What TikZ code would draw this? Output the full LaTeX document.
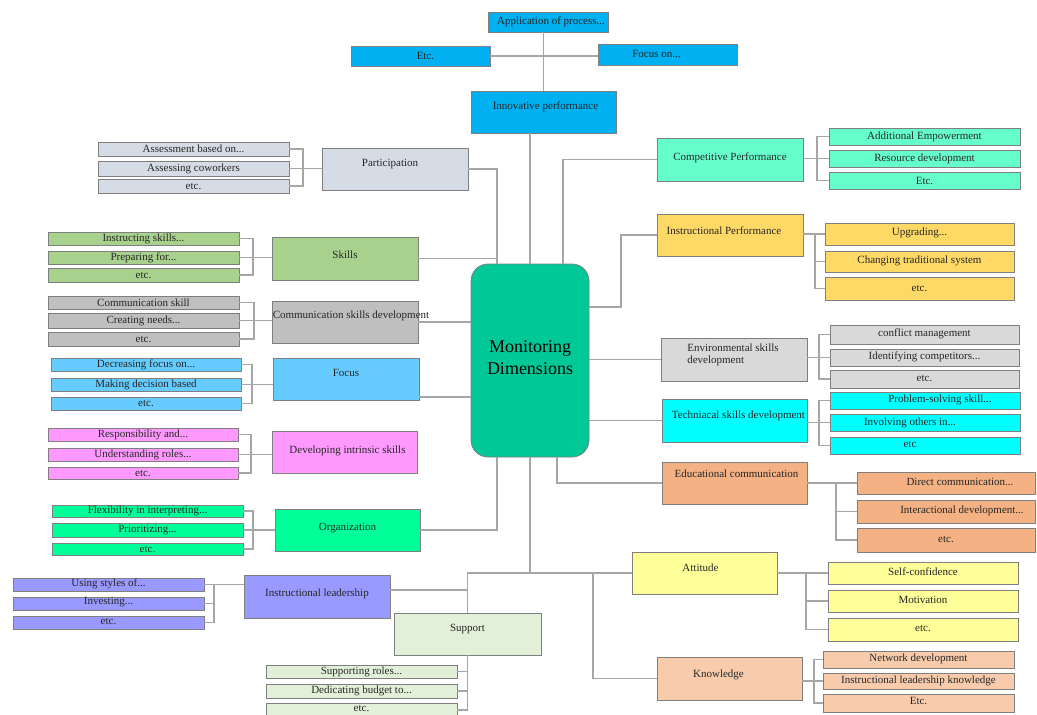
\documentclass[tikz,border=0pt]{standalone}
\usepackage{fontspec}
\setmainfont{Liberation Serif}
\usetikzlibrary{calc}
\definecolor{bordc}{HTML}{7F7F7F}
\definecolor{connc}{HTML}{A6A6A6}
\definecolor{cblue}{HTML}{00B0F0}
\definecolor{cpart}{HTML}{D6DCE5}
\definecolor{cskill}{HTML}{A9D18E}
\definecolor{ccomm}{HTML}{BFBFBF}
\definecolor{cfocus}{HTML}{66CCFF}
\definecolor{cintr}{HTML}{FF99FF}
\definecolor{corg}{HTML}{00FF99}
\definecolor{clead}{HTML}{9999FF}
\definecolor{csupp}{HTML}{E2F0D9}
\definecolor{cmon}{HTML}{00C896}
\definecolor{ccomp}{HTML}{66FFCC}
\definecolor{cipf}{HTML}{FFD966}
\definecolor{cenv}{HTML}{D9D9D9}
\definecolor{ctech}{HTML}{00FFFF}
\definecolor{cedu}{HTML}{F4B183}
\definecolor{catt}{HTML}{FFFF99}
\definecolor{cknow}{HTML}{F8CBAD}
\tikzset{
  box/.style={draw=bordc, line width=0.8pt, inner sep=0pt, outer sep=0pt, rectangle},
  txt/.style={font=\fontsize{11}{12}\selectfont, inner sep=0pt, text=black!85, align=center},
  conn/.style={draw=connc, line width=1.3pt},
}
% name, fill, x1, y1, x2, y2, text, dx, dy
\newcommand\bx[9]{%
  \node[box, fill=#2, minimum width={(#5-#3)*1pt}, minimum height={(#6-#4)*1pt}] (#1) at ({(#3+#5)/2},{(#4+#6)/2}) {};
  \node[txt] (#1t) at ([xshift=#8pt,yshift=#9pt]#1.center) {#7};}
% bracket on the left: parent, a, b, c, x
\newcommand\bl[5]{%
  \coordinate (k#1) at (#5,0);
  \draw[conn] (#2.east) -| (k#1 |- #4.east) -- (#4.east);
  \draw[conn] (#3.east) -- (#3.east -| k#1);}
% bracket on the right
\newcommand\brk[5]{%
  \coordinate (k#1) at (#5,0);
  \draw[conn] (#2.west) -| (k#1 |- #4.west) -- (#4.west);
  \draw[conn] (#3.west) -- (#3.west -| k#1);}
\begin{document}
\begin{tikzpicture}[x=1pt,y=-1pt]
\useasboundingbox (0,0) rectangle (1037,715);
\clip (0,0) rectangle (1037,715);

% centre
\node[box, fill=cmon, rounded corners=17pt, minimum width=118pt, minimum height=193pt] (mon) at (530,360.5) {};
\node[font=\fontsize{18}{22}\selectfont, align=center, inner sep=0pt] (mont) at ([yshift=3pt]mon.center) {Monitoring\\Dimensions};

% top
\bx{ap}{cblue}{488}{12}{608}{32}{Application of process...}{3}{0}
\bx{et}{cblue}{351}{46}{490}{66}{Etc.}{5}{0}
\bx{fn}{cblue}{598}{44}{737}{65}{Focus on...}{-11}{1}
\bx{iv}{cblue}{471}{91}{616}{133}{Innovative performance}{2}{5}
\draw[conn] (iv.north) -- (iv.north |- ap.south);
\draw[conn] (et.east) -- (et.east -| fn.west);
\draw[conn] (iv.south -| mon.north) -- (mon.north);

% left: participation
\bx{part}{cpart}{322}{148}{468}{190}{Participation}{-5}{5}
\bx{pa}{cpart}{98}{142}{289}{156}{Assessment based on...}{0}{0}
\bx{pb}{cpart}{98}{161}{289}{176}{Assessing coworkers}{0}{0}
\bx{pc}{cpart}{98}{179}{289}{193}{etc.}{0}{0}
\bl{part}{pa}{pb}{pc}{303}
\draw[conn] (pb.east) -- (pb.east -| part.west);
\coordinate (xL) at (497,0);
\draw[conn] (part.east) -| (mon.north -| xL);

% skills
\bx{sk}{cskill}{272}{237}{418}{280}{Skills}{0}{4}
\bx{sa}{cskill}{48}{232}{239}{245}{Instructing skills...}{0}{0}
\bx{sb}{cskill}{48}{251}{239}{264}{Preparing for...}{0}{0}
\bx{sc}{cskill}{48}{268}{239}{282}{etc.}{0}{0}
\bl{sk}{sa}{sb}{sc}{253}
\draw[conn] (sb.east) -- (sb.east -| sk.west);
\draw[conn] (sk.east) -- (sk.east -| xL);

% communication skills development
\bx{cm}{ccomm}{272}{301}{418}{343}{Communication skills development}{6}{6}
\bx{ma}{ccomm}{48}{296}{239}{309}{Communication skill}{0}{0}
\bx{mb}{ccomm}{48}{313}{239}{328}{Creating needs...}{0}{0}
\bx{mc}{ccomm}{48}{332}{239}{346}{etc.}{0}{0}
\bl{cm}{ma}{mb}{mc}{254}
\draw[conn] (mb.east) -- (mb.east -| cm.west);
\draw[conn] (cm.east) -- (cm.east -| mon.west);

% focus
\bx{fo}{cfocus}{273}{358}{419}{400}{Focus}{0}{6}
\bx{fa}{cfocus}{51}{358}{241}{371}{Decreasing focus on...}{0}{0}
\bx{fb}{cfocus}{51}{378}{241}{391}{Making decision based}{0}{0}
\bx{fc}{cfocus}{51}{397}{241}{410}{etc.}{0}{0}
\bl{fo}{fa}{fb}{fc}{252}
\draw[conn] (fb.east) -- (fb.east -| fo.west);
\coordinate (foj) at ([yshift=-18pt]fo.east);
\draw[conn] (foj) -- (foj -| mon.west);

% developing intrinsic skills
\bx{intr}{cintr}{272}{431}{417}{473}{Developing intrinsic skills}{3}{1}
\bx{na}{cintr}{48}{428}{238}{441}{Responsibility and...}{0}{0}
\bx{nb}{cintr}{48}{448}{238}{461}{Understanding roles...}{0}{0}
\bx{nc}{cintr}{48}{467}{238}{479}{etc.}{0}{0}
\bl{intr}{na}{nb}{nc}{251}
\draw[conn] (nb.east) -- (nb.east -| intr.west);

% organization
\bx{org}{corg}{275}{509}{420}{551}{Organization}{0}{2}
\bx{oa}{corg}{52}{505}{243}{517}{Flexibility in interpreting...}{0}{0}
\bx{ob}{corg}{52}{523}{243}{537}{Prioritizing...}{0}{0}
\bx{oc}{corg}{52}{543}{243}{555}{etc.}{0}{0}
\bl{org}{oa}{ob}{oc}{253}
\draw[conn] (ob.east) -- (ob.east -| org.west);
\draw[conn] (org.east) -| (mon.south -| xL);

% support
\bx{su}{csupp}{394}{613}{541}{655}{Support}{0}{5}
\bx{ua}{csupp}{266}{665}{457}{678}{Supporting roles...}{0}{0}
\bx{ub}{csupp}{266}{684}{457}{698}{Dedicating budget to...}{0}{0}
\bx{uc}{csupp}{266}{703}{457}{717}{etc.}{0}{2}
\draw[conn] (su.south) |- (uc.east);
\draw[conn] (ua.east) -- (ua.east -| su.south);
\draw[conn] (ub.east) -- (ub.east -| su.south);

% instructional leadership
\bx{le}{clead}{244}{575}{390}{618}{Instructional leadership}{0}{3}
\bx{la}{clead}{13}{578}{204}{591}{Using styles of...}{0}{1}
\bx{lb}{clead}{13}{597}{204}{610}{Investing...}{0}{1}
\bx{lc}{clead}{13}{616}{204}{629}{etc.}{0}{1}
\bl{le}{la}{lb}{lc}{214}
\draw[conn] (la.east) -- (la.east -| le.west);
\coordinate (lej) at ([yshift=6.5pt]le.east);
\draw[conn] (lej) -- (lej -| su.north);

% right: competitive performance
\bx{cp}{ccomp}{657}{138}{803}{181}{Competitive Performance}{0}{2}
\bx{ca}{ccomp}{829}{128}{1020}{145}{Additional Empowerment}{0}{0}
\bx{cb}{ccomp}{829}{150}{1020}{167}{Resource development}{0}{0}
\bx{cc}{ccomp}{829}{172}{1020}{189}{Etc.}{0}{0}
\brk{cp}{ca}{cb}{cc}{817}
\draw[conn] (cb.west) -- (cb.west -| cp.east);
\coordinate (xR) at (563,0);
\draw[conn] (mon.north -| xR) |- (cp.west);

% instructional performance
\bx{ip}{cipf}{657}{214}{803}{256}{Instructional Performance}{-6}{4}
\bx{ga}{cipf}{825}{223}{1014}{245}{Upgrading...}{0}{1}
\bx{gb}{cipf}{825}{251}{1014}{272}{Changing traditional system}{0}{1}
\bx{gc}{cipf}{825}{277}{1014}{300}{etc.}{0}{0}
\brk{ip}{ga}{gb}{gc}{815}
\draw[conn] (ga.west) -- (ga.west -| ip.east);
\coordinate (r2) at (621,307);
\draw[conn] (r2 -| mon.east) -- (r2) |- (ip.west);

% environmental skills development
\bx{en}{cenv}{661}{338}{807}{381}{\begin{tabular}{@{}l@{}}Environmental skills\\development\end{tabular}}{-1}{4}
\bx{ea}{cenv}{830}{325}{1019}{344}{conflict management}{0}{1}
\bx{eb}{cenv}{830}{349}{1019}{366}{Identifying competitors...}{0}{1}
\bx{ec}{cenv}{830}{370}{1019}{388}{etc.}{0}{1}
\brk{en}{ea}{eb}{ec}{819}
\draw[conn] (eb.west) -- (eb.west -| en.east);
\draw[conn] (en.west) -- (en.west -| mon.east);

% technical skills development
\bx{te}{ctech}{662}{399}{807}{442}{Techniacal skills development}{4}{5}
\bx{ta}{ctech}{830}{392}{1020}{409}{Problem-solving skill...}{15}{1}
\bx{tb}{ctech}{830}{414}{1020}{431}{Involving others in...}{-15}{0}
\bx{tc}{ctech}{830}{437}{1020}{454}{etc}{-15}{1}
\brk{te}{ta}{tb}{tc}{819}
\draw[conn] (tb.west) -- (tb.west -| te.east);
\draw[conn] (te.west) -- (te.west -| mon.east);

% educational communication
\bx{ed}{cedu}{662}{462}{807}{504}{Educational communication}{2}{9}
\bx{da}{cedu}{857}{472}{1035}{494}{Direct communication...}{14}{1}
\bx{db}{cedu}{857}{500}{1035}{523}{Interactional development...}{16}{1}
\bx{dc}{cedu}{857}{528}{1035}{552}{etc.}{0}{1}
\brk{ed}{da}{db}{dc}{836}
\draw[conn] (da.west) -- (da.west -| ed.east);
\coordinate (xE) at (557,0);
\draw[conn] (mon.south -| xE) |- (ed.west);

% attitude
\bx{att}{catt}{632}{552}{777}{594}{Attitude}{-4}{5}
\bx{aa}{catt}{828}{562}{1018}{584}{Self-confidence}{0}{1}
\bx{ab}{catt}{828}{590}{1018}{612}{Motivation}{0}{1}
\bx{ac}{catt}{828}{618}{1018}{641}{etc.}{0}{1}
\brk{att}{aa}{ab}{ac}{806}
\draw[conn] (aa.west) -- (aa.west -| att.east);

% knowledge
\bx{kn}{cknow}{657}{657}{802}{700}{Knowledge}{-11}{4}
\bx{ka}{cknow}{823}{651}{1014}{668}{Network development}{0}{1}
\bx{kb}{cknow}{823}{673}{1014}{689}{Instructional leadership knowledge}{0}{0}
\bx{kc}{cknow}{823}{694}{1014}{712}{Etc.}{0}{2}
\brk{kn}{ka}{kb}{kc}{814}
\draw[conn] (kb.west) -- (kb.west -| kn.east);

% centre bottom trunk
\draw[conn] (mon.south) -- (mon.south |- att.west);
\draw[conn] (su.north) |- (att.west);
\coordinate (xK) at (593,0);
\draw[conn] (xK |- att.west) |- (kn.west);
\end{tikzpicture}
\end{document}
